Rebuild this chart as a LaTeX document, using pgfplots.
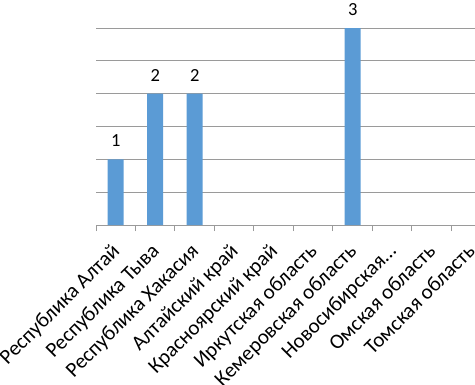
\documentclass[border=0pt]{standalone}
\usepackage{fontspec}
\setmainfont{Carlito}
\usepackage{pgfplots}
\pgfplotsset{compat=1.18}
\definecolor{barblue}{HTML}{5B9BD5}
\definecolor{gridgray}{HTML}{9A9A9A}
\begin{document}
\begin{tikzpicture}
\path[use as bounding box] (0,0) rectangle (475bp,385bp);
\clip (0,0) rectangle (475bp,385bp);
\begin{axis}[
  at={(96bp,160bp)}, anchor=south west,
  scale only axis, width=379.2bp, height=197bp,
  xmin=-0.5, xmax=9.1, ymin=0, ymax=3,
  clip=false,
  axis x line*=bottom, axis y line*=left,
  x axis line style={gridgray, line width=1bp, -},
  y axis line style={draw=none},
  ytick={0,0.5,...,3}, yticklabels={},
  major y tick style={draw=none},
  ymajorgrids, grid style={gridgray, line width=1bp},
  xtick={0,...,9},
  xticklabels={Республика Алтай, Республика Тыва, Республика Хакасия, Алтайский край, Красноярский край, Иркутская область, Кемеровская область, Новосибирская…, Омская область, Томская область},
  major x tick style={draw=none},
  minor xtick={-0.5,0.5,...,9.5},
  minor x tick style={gridgray, line width=1bp},
  minor tick length=6bp,
  tick align=outside,
  typeset ticklabels with strut,
  xticklabel style={xshift=-7bp, yshift=-11bp, rotate=45, anchor=north east, font=\fontsize{21bp}{24bp}\selectfont, inner sep=0pt},
  nodes near coords,
  every node near coord/.append style={font=\fontsize{18.5bp}{22bp}\selectfont, yshift=9bp},
  point meta=explicit symbolic,
]
\addplot[ybar, bar width=16bp, fill=barblue, draw=none] coordinates {
  (0,1) [1] (1,2) [2] (2,2) [2] (6,3) [3]
};
\end{axis}
\end{tikzpicture}
\end{document}
